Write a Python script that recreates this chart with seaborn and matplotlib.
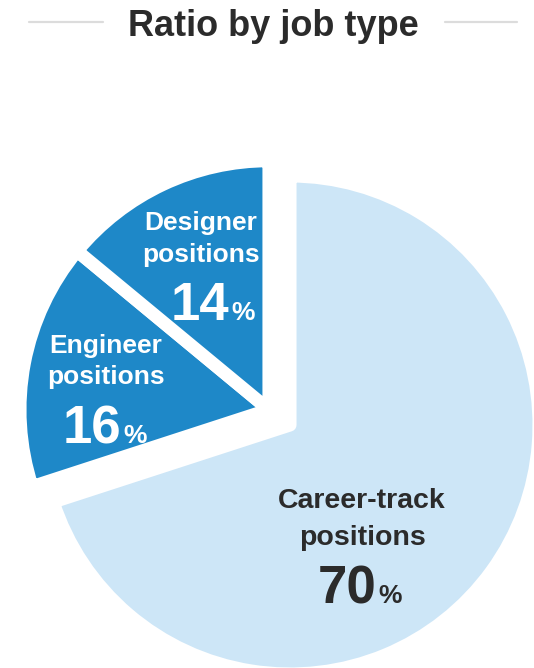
import matplotlib
matplotlib.use("Agg")
import matplotlib.pyplot as plt
import seaborn as sns
import numpy as np

# chart data
categories = ["Career-track\npositions", "Engineer\npositions", "Designer\npositions"]
shares = [70, 16, 14]
colors = ["#cde6f7", "#1e88c8", "#1e88c8"]
text_colors = ["#2b2b2b", "white", "white"]

sns.set_theme(style="white")
plt.rcParams['font.family'] = ['Liberation Sans', 'DejaVu Sans']

W, H = 534, 668
fig = plt.figure(figsize=(W / 100, H / 100), dpi=100)
ax = fig.add_axes([0, 0, 1, 1])

# pie in pixel coordinates (y measured from the bottom)
cx, cy, r = 290, H - 425, 249
wedges, _ = ax.pie(shares, colors=colors, startangle=90, counterclock=False,
                   radius=r, center=(cx, cy),
                   wedgeprops=dict(edgecolor="white", linewidth=9.4, joinstyle="round"))

# push the two dark slices out together, towards the middle of their group
shift = 26
ang = np.deg2rad(144)
for w in wedges[1:]:
    w.set_center((cx + shift * np.cos(ang), cy + shift * np.sin(ang)))

ax.set_xlim(0, W)
ax.set_ylim(0, H)
ax.set_aspect("equal")
ax.axis("off")

# title with side rules
ax.text(273, H - 27, "Ratio by job type", ha="center", va="center",
        fontsize=26, fontweight="bold", color="#2b2b2b")
ax.plot([29, 103], [H - 22, H - 22], color="#dcdcdc", lw=1.6)
ax.plot([445, 517], [H - 22, H - 22], color="#dcdcdc", lw=1.6)

# labels: (name centre x, first baseline, line gap, number right edge, number baseline, name size)
label_pos = [
    (362, 508, 37, 376, 603, 20.5),
    (106, 353, 31, 121, 443, 19),
    (201, 230, 32, 229, 320, 19),
]
for name, pct, tc, (x, yb, gap, xn, yn, fs) in zip(categories, shares, text_colors, label_pos):
    for i, line in enumerate(name.split("\n")):
        ax.text(x, H - (yb + i * gap), line, ha="center", va="baseline",
                fontsize=fs, fontweight="bold", color=tc)
    ax.text(xn, H - yn, str(pct), ha="right", va="baseline",
            fontsize=38, fontweight="bold", color=tc)
    ax.text(xn + 2, H - yn, "%", ha="left", va="baseline",
            fontsize=19, fontweight="bold", color=tc)

fig.savefig("out.png", dpi=100, facecolor="white")
